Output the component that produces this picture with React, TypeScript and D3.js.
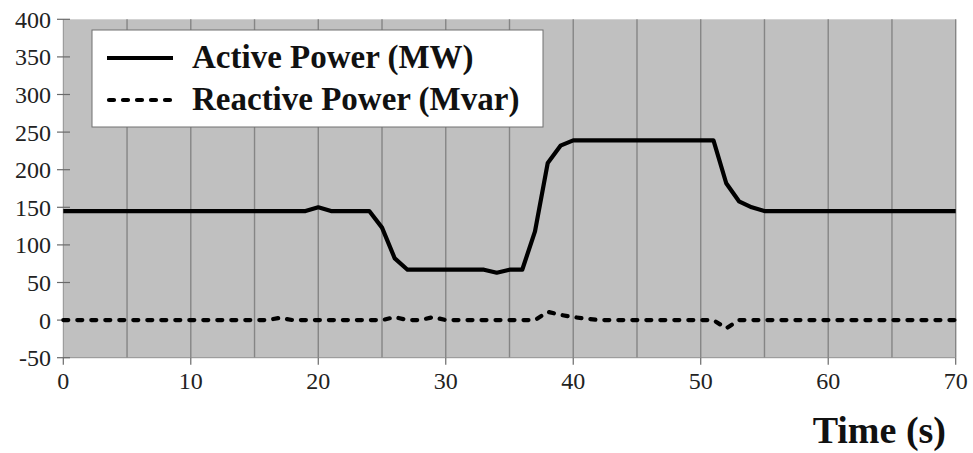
import React from "react";
import * as d3 from "d3";

// time in seconds, one sample per second
const times = d3.range(0, 71);

const activePower = [
  145, 145, 145, 145, 145, 145, 145, 145, 145, 145,
  145, 145, 145, 145, 145, 145, 145, 145, 145, 145,
  150, 145, 145, 145, 145, 123, 82, 67, 67, 67,
  67, 67, 67, 67, 63, 67, 67, 118, 209, 232,
  239, 239, 239, 239, 239, 239, 239, 239, 239, 239,
  239, 239, 182, 158, 150, 145, 145, 145, 145, 145,
  145, 145, 145, 145, 145, 145, 145, 145, 145, 145,
  145,
];

const reactivePower = [
  0, 0, 0, 0, 0, 0, 0, 0, 0, 0,
  0, 0, 0, 0, 0, 0, 0, 3, 0, 0,
  0, 0, 0, 0, 0, 0, 4, 0, 0, 4,
  0, 0, 0, 0, 0, 0, 0, 0, 11, 7,
  4, 2, 0, 0, 0, 0, 0, 0, 0, 0,
  0, 0, -11, 0, 0, 0, 0, 0, 0, 0,
  0, 0, 0, 0, 0, 0, 0, 0, 0, 0,
  0,
];

const yTicks = [-50, 0, 50, 100, 150, 200, 250, 300, 350, 400];
const xTicks = [0, 10, 20, 30, 40, 50, 60, 70];
const gridTimes = [5, 10, 15, 20, 25, 30, 35, 40, 45, 50, 55, 60, 65, 70];

const legendItems = [
  { label: "Active Power (MW)", dash: null },
  { label: "Reactive Power (Mvar)", dash: "5,9" },
];

const W = 973;
const H = 453;
const font = "'Liberation Serif', 'Times New Roman', serif";

export default function App() {
  const x = d3.scaleLinear().domain([0, 70]).range([63.3, 955.7]);
  const y = d3.scaleLinear().domain([-50, 400]).range([357.7, 19.3]);

  const line = d3
    .line<number>()
    .x((_, i) => x(times[i]))
    .y((d) => y(d));

  const [x0, x1] = x.range();
  const [yb, yt] = y.range();

  return (
    <svg
      width={W}
      height={H}
      style={{ position: "absolute", left: 0, top: 0, background: "#fff" }}
    >
      {/* plot background */}
      <rect x={x0} y={yt} width={x1 - x0} height={yb - yt} fill="#c0c0c0" />

      {/* vertical grid */}
      {gridTimes.map((t) => (
        <line
          key={t}
          x1={x(t)}
          x2={x(t)}
          y1={yt}
          y2={yb}
          stroke="#858585"
          strokeWidth={1.4}
        />
      ))}

      {/* axes */}
      <line x1={x0} x2={x0} y1={yt} y2={yb} stroke="#909090" strokeWidth={1} />
      <line x1={x0} x2={x1} y1={yb} y2={yb} stroke="#909090" strokeWidth={1} />

      {yTicks.map((v) => (
        <g key={v}>
          <line x1={57} x2={70} y1={y(v)} y2={y(v)} stroke="#6a6a6a" strokeWidth={1.2} />
          <text
            x={51}
            y={y(v)}
            dy="0.35em"
            textAnchor="end"
            fontFamily={font}
            fontSize={24}
            fill="#222"
          >
            {v}
          </text>
        </g>
      ))}

      {xTicks.map((t) => (
        <g key={t}>
          <line x1={x(t)} x2={x(t)} y1={yb} y2={yb + 7} stroke="#6a6a6a" strokeWidth={1.2} />
          <text
            x={x(t)}
            y={389}
            textAnchor="middle"
            fontFamily={font}
            fontSize={24}
            fill="#222"
          >
            {t}
          </text>
        </g>
      ))}

      {/* series */}
      <path
        d={line(activePower) ?? ""}
        fill="none"
        stroke="#000"
        strokeWidth={4.2}
        strokeLinejoin="round"
      />
      <path
        d={line(reactivePower) ?? ""}
        fill="none"
        stroke="#000"
        strokeWidth={4.2}
        strokeDasharray="5,9"
        strokeLinecap="round"
        strokeLinejoin="round"
      />

      {/* legend */}
      <rect x={92} y={30} width={451} height={97} fill="#fff" stroke="#707070" strokeWidth={1} />
      {legendItems.map((item, i) => (
        <g key={item.label} transform={`translate(0, ${i * 42})`}>
          <line
            x1={item.dash ? 109 : 107}
            x2={item.dash ? 171 : 173}
            y1={58}
            y2={58}
            stroke="#000"
            strokeWidth={4.2}
            strokeDasharray={item.dash ?? undefined}
            strokeLinecap={item.dash ? "round" : "butt"}
          />
          <text
            x={192}
            y={68}
            fontFamily={font}
            fontWeight="bold"
            fontSize={33}
            fill="#111"
          >
            {item.label}
          </text>
        </g>
      ))}

      <text
        x={946}
        y={443}
        textAnchor="end"
        fontFamily={font}
        fontWeight="bold"
        fontSize={38}
        fill="#111"
      >
        Time (s)
      </text>
    </svg>
  );
}
